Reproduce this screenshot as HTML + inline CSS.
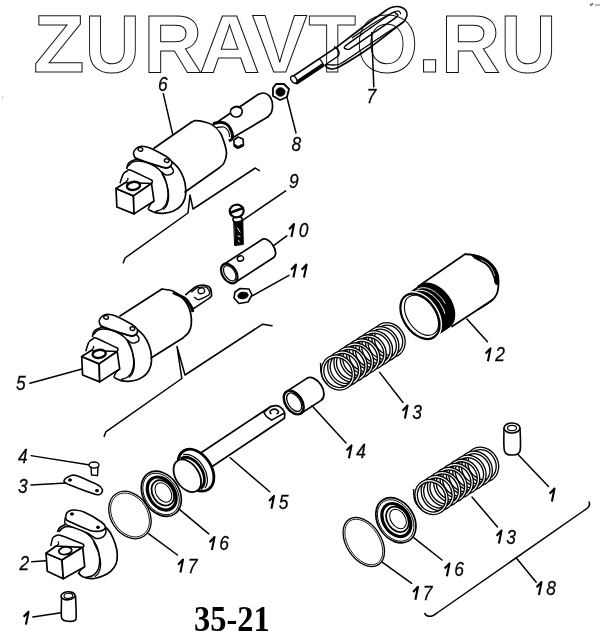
<!DOCTYPE html>
<html><head><meta charset="utf-8"><style>
html,body{margin:0;padding:0;background:#fff;width:600px;height:638px;overflow:hidden}
svg{position:absolute;left:0;top:0;will-change:transform}
.wm{font-family:"Liberation Sans",sans-serif;font-weight:bold;font-size:81.4px;fill:none;stroke:#111;stroke-width:1.0px}
.lb{font-family:"Liberation Sans",sans-serif;font-style:italic;fill:#000;stroke:#000;stroke-width:0.25px}
.big{font-family:"Liberation Serif",serif;font-weight:bold;fill:#000}
</style></head><body>
<svg width="600" height="638" viewBox="0 0 600 638">
<text class="wm" transform="translate(33.2,72) scale(1.03,1)" x="0" y="0">Z</text>
<text class="wm" transform="translate(84.9,72) scale(0.935,1)" x="0" y="0">U</text>
<text class="wm" transform="translate(143.6,72) scale(1.0,1)" x="0" y="0">R</text>
<text class="wm" transform="translate(198.9,72) scale(1.04,1)" x="0" y="0">A</text>
<text class="wm" transform="translate(252,72) scale(1.02,1)" x="0" y="0">V</text>
<text class="wm" transform="translate(308.4,72) scale(0.955,1)" x="0" y="0">T</text>
<text class="wm" transform="translate(355.9,72) scale(0.98,1)" x="0" y="0">O</text>
<text class="wm" transform="translate(417.7,72) scale(1.05,1)" x="0" y="0">.</text>
<text class="wm" transform="translate(441.1,72) scale(1.01,1)" x="0" y="0">R</text>
<text class="wm" transform="translate(500.4,72) scale(0.95,1)" x="0" y="0">U</text>
<path d="M292.6,76.5 L337,46.8 L363,27 L386.5,10" fill="none" stroke="#000" stroke-width="1.6" stroke-linejoin="round" stroke-linecap="round"/>
<path d="M386.5,10 C387.2,9.6 390.3,7.6 392,7.2 C393.7,6.8 397.7,6.4 399.5,6.8 C401.3,7.2 404.5,8.9 405.5,10 C406.5,11.1 407.1,13.8 407,15.3 C406.9,16.8 404.8,20.2 404.5,21" fill="none" stroke="#000" stroke-width="1.6"/>
<path d="M404.5,21 C401.1,23.6 376.5,42.9 370,47.5 C363.5,52.1 343.3,64.6 339.5,66.8 C335.7,69 333.2,68.9 332,69 C330.8,69.1 327.7,67.9 327,67.5 C326.3,67.1 325.2,65.2 325,65" fill="none" stroke="#000" stroke-width="1.6"/>
<path d="M326,64.5 C327.4,64.5 335.6,66 340,64 C344.4,62 363.6,48.2 370,44 C376.4,39.8 400.2,24.2 403.6,22" fill="none" stroke="#000" stroke-width="1.3"/>
<path d="M345.3,46 C342.3,48.7 346.1,48.8 346.8,49.1 C347.5,49.4 347.1,50.5 350.7,48.3 C354.3,46.1 367.9,36.7 374,32.5 C380.1,28.3 393.8,19.4 396.7,16.9 C399.6,14.4 396.6,14.1 396,13.6 C395.4,13.1 395.7,10.9 392.1,13 C388.5,15.1 375.2,24.6 369,29 C362.8,33.4 348.3,43.3 345.3,46Z" fill="none" stroke="#000" stroke-width="1.4"/>
<path d="M352,38 C355.1,35.9 369,26.1 375,22.5 C381,18.9 393.2,12.1 396.7,11 C400.2,9.9 400.4,13.6 401,14" fill="none" stroke="#000" stroke-width="1.2"/>
<path d="M297,82.3 L322.5,65.3" fill="none" stroke="#000" stroke-width="4" stroke-linejoin="round" stroke-linecap="round"/>
<path d="M319.5,59 C319.9,59.5 321.4,60.9 322,62 C322.6,63.1 322.8,64.9 323,65.5" fill="none" stroke="#000" stroke-width="1.4"/>
<path d="M325,65 L337.5,56.5" fill="none" stroke="#000" stroke-width="1.4" stroke-linejoin="round" stroke-linecap="round"/>
<path d="M334,46.5 C334.7,47.1 337.2,48.8 338,50 C338.8,51.2 339.1,52.9 339,54 C338.9,55.1 337.8,56.1 337.5,56.5" fill="none" stroke="#000" stroke-width="1.5"/>
<ellipse cx="293.8" cy="79.5" rx="2.6" ry="4" transform="rotate(-33 293.8 79.5)" fill="#fff" stroke="#000" stroke-width="1.4"/>
<path d="M371.7,32.5 L373.8,86.7" fill="none" stroke="#000" stroke-width="1.5" stroke-linejoin="round" stroke-linecap="round"/>
<text transform="translate(366.6,103.3) scale(0.87,1)" x="0" y="0" font-size="20" class="lb">7</text>
<path d="M273,88 L276,84 L284,84 L289,89 L287,97 L280,100 L273,96Z" fill="none" stroke="#000" stroke-width="1.8" stroke-linejoin="round" stroke-linecap="round"/>
<ellipse cx="280.5" cy="92" rx="4.5" ry="4.2" transform="rotate(0 280.5 92)" fill="#000" stroke="#000" stroke-width="1"/>
<path d="M286.8,96.8 L296,132.9" fill="none" stroke="#000" stroke-width="1.5" stroke-linejoin="round" stroke-linecap="round"/>
<text transform="translate(291.6,151) scale(0.87,1)" x="0" y="0" font-size="20" class="lb">8</text>
<text transform="translate(158.1,91.4) scale(0.87,1)" x="0" y="0" font-size="20" class="lb">6</text>
<path d="M163.3,93.7 L172.7,134.3" fill="none" stroke="#000" stroke-width="1.5" stroke-linejoin="round" stroke-linecap="round"/>
<path d="M126.7,169 C127,168 127.3,164.6 128.7,163 C130,161.4 133,160.3 134.7,159.7 C136.3,159 138,159.1 138.7,159" fill="none" stroke="#000" stroke-width="1.7"/>
<path d="M171.6,161.4 C172.8,162.6 176.6,165.6 178.5,168.3 C180.5,171 182.3,174.3 183.5,177.7 C184.7,181 185.5,185 185.7,188.3 C186,191.7 185.9,194.7 185.1,197.7 C184.2,200.6 182.8,203.7 180.8,205.9 C178.8,208.2 175.8,210 172.9,211.3 C170,212.5 166.3,213 163.3,213.3 C160.4,213.5 157.8,213.2 155.3,212.6 C152.9,212 149.8,210.2 148.7,209.7" fill="none" stroke="#000" stroke-width="1.7"/>
<path d="M128,166.3 C128.7,165.7 130.2,163.2 132,162.3 C133.8,161.4 135.7,160.8 138.7,161 C141.7,161.2 146.6,162.2 150,163.7 C153.4,165.1 156.9,167.3 159.3,169.7 C161.8,172 163.3,174.8 164.7,177.7 C166,180.6 166.8,183.9 167.3,187 C167.9,190.1 168.2,193.4 168,196.3 C167.8,199.2 167,202.2 166,204.3 C165,206.4 163.8,207.8 162,209 C160.2,210.2 156.4,211.2 155.3,211.7" fill="none" stroke="#000" stroke-width="1.5"/>
<path d="M162,173.7 C162.8,175.4 165.6,180.8 166.7,184.3 C167.8,187.9 168.6,191.7 168.7,195 C168.8,198.3 168.2,201.9 167.3,204.3 C166.4,206.8 164,208.8 163.3,209.7" fill="none" stroke="#000" stroke-width="1.2"/>
<path d="M170.7,166.3 C171.1,167 173.1,169.1 173.3,170.3 C173.6,171.6 173.2,172.9 172,173.7 C170.8,174.4 167.8,175.3 166,175 C164.2,174.7 162.1,172.2 161.3,171.7" fill="none" stroke="#000" stroke-width="1.4"/>
<path d="M133.7,152.1 C134.1,150.7 135.3,149 136.7,148.1 C138,147.1 139.8,146.4 142,146.3 C144.2,146.3 146,146.3 150,147.9 C154,149.6 162.4,154.1 166,156.3 C169.6,158.6 170.8,159.8 171.6,161.4 C172.4,163 171.6,164.9 170.7,165.9 C169.7,167 168.6,168 166,167.8 C163.4,167.6 160,166.5 155.3,165 C150.7,163.5 141.5,160.4 138,159 C134.5,157.6 135,157.5 134.3,156.3 C133.6,155.2 133.3,153.4 133.7,152.1Z" fill="#fff" stroke="#000" stroke-width="1.6"/>
<path d="M134.3,157 C134.9,157.4 134.3,158.2 138,159.7 C141.7,161.1 152,164.2 156.7,165.7 C161.3,167.1 163.6,168.2 166,168.3 C168.4,168.4 170.2,166.7 171.1,166.3" fill="none" stroke="#000" stroke-width="1.3"/>
<ellipse cx="140.4" cy="149.4" rx="2.4" ry="1.8" transform="rotate(15 140.4 149.4)" fill="none" stroke="#000" stroke-width="1.4"/>
<ellipse cx="166.7" cy="160.6" rx="2.4" ry="1.8" transform="rotate(15 166.7 160.6)" fill="none" stroke="#000" stroke-width="1.4"/>
<path d="M120,183.3 C120.3,182.4 122.3,175.7 123,174.5 C123.7,173.2 126.3,171.4 127,171 C127.7,170.6 127.6,169.1 130,170 C132.4,170.9 149.3,178.6 151.5,180 C153.6,181.4 151.5,183.2 151.5,183.5" fill="none" stroke="#000" stroke-width="1.5"/>
<path d="M127.5,177.9 C127.6,178.2 128.3,178.8 128,179.5 C127.7,180.3 125.9,182 125.5,182.5" fill="none" stroke="#000" stroke-width="1.2"/>
<path d="M154,201 C153.3,201.7 151,203.6 150,205 C149,206.4 148.3,208.9 148,209.7" fill="none" stroke="#000" stroke-width="1.4"/>
<path d="M116,188.5 L133.5,195.9 L134,213.9 L116.9,207Z" fill="#fff" stroke="#000" stroke-width="1.7" stroke-linejoin="round" stroke-linecap="round"/>
<path d="M116,188.5 L125.5,182.5 L151.5,183.5 L133.5,195.9Z" fill="#fff" stroke="#000" stroke-width="1.7" stroke-linejoin="round" stroke-linecap="round"/>
<path d="M133.5,195.9 L151.5,183.5 L154,201 L134,213.9Z" fill="#fff" stroke="#000" stroke-width="1.7" stroke-linejoin="round" stroke-linecap="round"/>
<ellipse cx="133.5" cy="185.9" rx="6.6" ry="4" transform="rotate(-8 133.5 185.9)" fill="#fff" stroke="#000" stroke-width="2.4"/>
<path d="M154,148.3 L191.3,122.3" fill="none" stroke="#000" stroke-width="1.7" stroke-linejoin="round" stroke-linecap="round"/>
<path d="M191.3,122.3 C192,122 193.3,120.8 195.3,120.7 C197.3,120.6 200.4,121 203.3,121.7 C206.2,122.4 210,123.3 212.7,125 C215.4,126.7 217.9,129 219.7,131.7 C221.5,134.4 222.6,137.4 223.7,141 C224.8,144.6 226.4,149.3 226.5,153 C226.6,156.7 225.2,160.5 224,163 C222.8,165.5 219.8,167.2 219,168" fill="none" stroke="#000" stroke-width="1.7"/>
<path d="M219,168 L185,192" fill="none" stroke="#000" stroke-width="1.7" stroke-linejoin="round" stroke-linecap="round"/>
<path d="M217,122.3 L258.3,94.3" fill="none" stroke="#000" stroke-width="1.7" stroke-linejoin="round" stroke-linecap="round"/>
<path d="M258.3,94.3 C259.2,94.1 261.9,92.8 263.7,93 C265.5,93.2 267.6,94.2 269,95.7 C270.4,97.2 271.9,99.6 272.3,102.3 C272.8,105 272.5,109.2 271.7,111.7 C270.9,114.2 268.4,116.1 267.7,117" fill="none" stroke="#000" stroke-width="1.7"/>
<path d="M267.7,117 L231.7,138.3" fill="none" stroke="#000" stroke-width="1.7" stroke-linejoin="round" stroke-linecap="round"/>
<path d="M213,123.7 C214.3,123.5 218.6,122.1 221,122.3 C223.4,122.5 225.9,123.4 227.7,125 C229.5,126.6 230.9,129.5 231.7,131.7 C232.5,133.9 232.8,136.8 232.3,138.3 C231.9,139.9 229.6,140.6 229,141" fill="#fff" stroke="#000" stroke-width="3"/>
<path d="M216,127.7 C217.3,127.6 221.6,126.5 223.7,127 C225.8,127.5 227.3,129.3 228.3,131 C229.3,132.7 229.5,136 229.7,137" fill="none" stroke="#000" stroke-width="1.2"/>
<ellipse cx="236.3" cy="111.7" rx="6" ry="5.3" transform="rotate(-10 236.3 111.7)" fill="#fff" stroke="#000" stroke-width="1.6"/>
<path d="M231,109.5 C231.8,109.1 234.3,107.2 236,107 C237.7,106.8 240.2,108.2 241,108.5" fill="none" stroke="#000" stroke-width="1.2"/>
<path d="M234,140 L238,137 L243,139 L243.5,145 L239,147.5 L234,145Z" fill="#fff" stroke="#000" stroke-width="1.6" stroke-linejoin="round" stroke-linecap="round"/>
<path d="M234,145 C234.7,145.4 236.5,147.5 238,147.5 C239.5,147.5 242.2,145.4 243,145" fill="none" stroke="#000" stroke-width="3"/>
<path d="M123.3,262.7 L125,258 L188,213 L190,195 L193,209 L255.3,168 L259.3,170.7" fill="none" stroke="#000" stroke-width="1.5" stroke-linejoin="round" stroke-linecap="round"/>
<text transform="translate(289.1,187.6) scale(0.87,1)" x="0" y="0" font-size="20" class="lb">9</text>
<path d="M285.7,190.8 L240.7,221.6" fill="none" stroke="#000" stroke-width="1.5" stroke-linejoin="round" stroke-linecap="round"/>
<path d="M234,221 L242.8,220.5 L243.3,244.5 L235,245.5Z" fill="#000" stroke="#000" stroke-width="1" stroke-linejoin="round" stroke-linecap="round"/>
<path d="M237.5,228 L240,232" fill="none" stroke="#fff" stroke-width="1" stroke-linejoin="round" stroke-linecap="round"/>
<path d="M238,236 L240,236.5" fill="none" stroke="#fff" stroke-width="1" stroke-linejoin="round" stroke-linecap="round"/>
<path d="M238.5,240.5 L239.5,242" fill="none" stroke="#fff" stroke-width="1" stroke-linejoin="round" stroke-linecap="round"/>
<ellipse cx="237.5" cy="219.3" rx="4.6" ry="2.6" transform="rotate(-5 237.5 219.3)" fill="#fff" stroke="#000" stroke-width="1.6"/>
<ellipse cx="236.7" cy="211" rx="7" ry="6.3" transform="rotate(-5 236.7 211)" fill="#fff" stroke="#000" stroke-width="2.2"/>
<path d="M231,212.5 L243,208" fill="none" stroke="#000" stroke-width="2.6" stroke-linejoin="round" stroke-linecap="round"/>
<path class="one" d="M289.1,229.2 L294,224.1 L291.4,237" fill="none" stroke="#000" stroke-width="2.1" stroke-linecap="butt" stroke-linejoin="round"/>
<text transform="translate(298.7,237) scale(0.87,1)" x="0" y="0" font-size="20" class="lb">0</text>
<path d="M286.8,235.8 L273.6,245.7" fill="none" stroke="#000" stroke-width="1.5" stroke-linejoin="round" stroke-linecap="round"/>
<g transform="translate(229.3,273.5) rotate(-33)">
<path d="M0,-10.7 L46,-10.7" fill="none" stroke="#000" stroke-width="1.7" stroke-linejoin="round" stroke-linecap="round"/>
<path d="M0,10.7 L46,10.7" fill="none" stroke="#000" stroke-width="1.7" stroke-linejoin="round" stroke-linecap="round"/>
<path d="M46,-10.7 A6,10.7 0 0 1 46,10.7" fill="none" stroke="#000" stroke-width="1.8"/>
<ellipse cx="0" cy="0" rx="7" ry="10.7" transform="rotate(0 0 0)" fill="#fff" stroke="#000" stroke-width="2.2"/>
<ellipse cx="0.5" cy="0" rx="5" ry="8.5" transform="rotate(0 0.5 0)" fill="none" stroke="#000" stroke-width="1.2"/>
<ellipse cx="17.5" cy="-6.5" rx="3.2" ry="2.6" transform="rotate(20 17.5 -6.5)" fill="none" stroke="#000" stroke-width="1.4"/>
</g>
<path class="one" d="M291.1,269.7 L296,264.6 L293.4,277.5" fill="none" stroke="#000" stroke-width="2.1" stroke-linecap="butt" stroke-linejoin="round"/>
<path class="one" d="M301.7,269.7 L306.6,264.6 L304,277.5" fill="none" stroke="#000" stroke-width="2.1" stroke-linecap="butt" stroke-linejoin="round"/>
<path d="M289,275.3 L251.7,296.2" fill="none" stroke="#000" stroke-width="1.5" stroke-linejoin="round" stroke-linecap="round"/>
<path d="M235,292 L240,288.5 L249,289 L252,295 L248,302 L239,303.5 L234,298Z" fill="none" stroke="#000" stroke-width="1.6" stroke-linejoin="round" stroke-linecap="round"/>
<ellipse cx="243" cy="295.5" rx="5.2" ry="3.2" transform="rotate(-10 243 295.5)" fill="#000" stroke="#000" stroke-width="1"/>
<text transform="translate(16.1,390) scale(0.87,1)" x="0" y="0" font-size="20" class="lb">5</text>
<path d="M30,383.3 L82,369" fill="none" stroke="#000" stroke-width="1.5" stroke-linejoin="round" stroke-linecap="round"/>
<path d="M92.4,337 C92.7,336 93,332.6 94.4,331 C95.7,329.4 98.7,328.3 100.4,327.7 C102,327 103.7,327.1 104.4,327" fill="none" stroke="#000" stroke-width="1.7"/>
<path d="M137.3,329.4 C138.5,330.6 142.3,333.6 144.2,336.3 C146.2,339 148,342.3 149.2,345.7 C150.4,349 151.2,353 151.4,356.3 C151.7,359.7 151.6,362.7 150.8,365.7 C149.9,368.6 148.5,371.7 146.5,373.9 C144.5,376.2 141.5,378 138.6,379.3 C135.7,380.5 132,381 129,381.3 C126.1,381.5 123.5,381.2 121,380.6 C118.6,380 115.5,378.2 114.4,377.7" fill="none" stroke="#000" stroke-width="1.7"/>
<path d="M93.7,334.3 C94.4,333.7 95.9,331.2 97.7,330.3 C99.5,329.4 101.4,328.8 104.4,329 C107.4,329.2 112.3,330.2 115.7,331.7 C119.1,333.1 122.6,335.3 125,337.7 C127.5,340 129,342.8 130.4,345.7 C131.7,348.6 132.5,351.9 133,355 C133.6,358.1 133.9,361.4 133.7,364.3 C133.5,367.2 132.7,370.2 131.7,372.3 C130.7,374.4 129.5,375.8 127.7,377 C125.9,378.2 122.1,379.2 121,379.7" fill="none" stroke="#000" stroke-width="1.5"/>
<path d="M127.7,341.7 C128.5,343.4 131.3,348.8 132.4,352.3 C133.5,355.9 134.3,359.7 134.4,363 C134.5,366.3 133.9,369.9 133,372.3 C132.1,374.8 129.7,376.8 129,377.7" fill="none" stroke="#000" stroke-width="1.2"/>
<path d="M136.4,334.3 C136.8,335 138.8,337.1 139,338.3 C139.3,339.6 138.9,340.9 137.7,341.7 C136.5,342.4 133.5,343.3 131.7,343 C129.9,342.7 127.8,340.2 127,339.7" fill="none" stroke="#000" stroke-width="1.4"/>
<path d="M99.4,320.1 C99.8,318.7 101,317 102.4,316.1 C103.7,315.1 105.5,314.4 107.7,314.3 C109.9,314.3 111.7,314.3 115.7,315.9 C119.7,317.6 128.1,322.1 131.7,324.3 C135.3,326.6 136.5,327.8 137.3,329.4 C138.1,331 137.3,332.9 136.4,333.9 C135.4,335 134.3,336 131.7,335.8 C129.1,335.6 125.7,334.5 121,333 C116.4,331.5 107.2,328.4 103.7,327 C100.2,325.6 100.7,325.5 100,324.3 C99.3,323.2 99,321.4 99.4,320.1Z" fill="#fff" stroke="#000" stroke-width="1.6"/>
<path d="M100,325 C100.6,325.4 100,326.2 103.7,327.7 C107.4,329.1 117.7,332.2 122.4,333.7 C127,335.1 129.3,336.2 131.7,336.3 C134.1,336.4 135.9,334.7 136.8,334.3" fill="none" stroke="#000" stroke-width="1.3"/>
<ellipse cx="106.1" cy="317.4" rx="2.4" ry="1.8" transform="rotate(15 106.1 317.4)" fill="none" stroke="#000" stroke-width="1.4"/>
<ellipse cx="132.4" cy="328.6" rx="2.4" ry="1.8" transform="rotate(15 132.4 328.6)" fill="none" stroke="#000" stroke-width="1.4"/>
<path d="M85.7,351.3 C86,350.4 88,343.7 88.7,342.5 C89.4,341.2 92,339.4 92.7,339 C93.4,338.6 93.3,337.1 95.7,338 C98.1,338.9 115,346.6 117.2,348 C119.3,349.4 117.2,351.2 117.2,351.5" fill="none" stroke="#000" stroke-width="1.5"/>
<path d="M93.2,345.9 C93.3,346.2 94,346.8 93.7,347.5 C93.4,348.3 91.6,350 91.2,350.5" fill="none" stroke="#000" stroke-width="1.2"/>
<path d="M119.7,369 C119,369.7 116.7,371.6 115.7,373 C114.7,374.4 114,376.9 113.7,377.7" fill="none" stroke="#000" stroke-width="1.4"/>
<path d="M81.7,356.5 L99.2,363.9 L99.7,381.9 L82.6,375Z" fill="#fff" stroke="#000" stroke-width="1.7" stroke-linejoin="round" stroke-linecap="round"/>
<path d="M81.7,356.5 L91.2,350.5 L117.2,351.5 L99.2,363.9Z" fill="#fff" stroke="#000" stroke-width="1.7" stroke-linejoin="round" stroke-linecap="round"/>
<path d="M99.2,363.9 L117.2,351.5 L119.7,369 L99.7,381.9Z" fill="#fff" stroke="#000" stroke-width="1.7" stroke-linejoin="round" stroke-linecap="round"/>
<ellipse cx="99.2" cy="353.9" rx="6.6" ry="4" transform="rotate(-8 99.2 353.9)" fill="#fff" stroke="#000" stroke-width="2.4"/>
<path d="M120,316 L162,289" fill="none" stroke="#000" stroke-width="1.7" stroke-linejoin="round" stroke-linecap="round"/>
<path d="M162,289 C163.8,289.3 169.6,289.8 172.7,291 C175.8,292.2 178.3,294.1 180.7,296.3 C183.1,298.5 185.6,301.4 187.3,304.3 C189,307.2 190,310.4 190.7,313.7 C191.4,317 191.6,321.2 191.3,324.3 C191,327.4 190,330.1 188.7,332.3 C187.4,334.5 184.2,336.8 183.3,337.7" fill="none" stroke="#000" stroke-width="1.7"/>
<path d="M183.3,337.7 L151,358" fill="none" stroke="#000" stroke-width="1.7" stroke-linejoin="round" stroke-linecap="round"/>
<path d="M185.3,295 C186.3,294.2 193.5,288 195.3,287 C197.1,286 201.9,285 203.3,285 C204.7,285 208.5,286.3 209.3,287 C210.1,287.7 211.2,291.3 211.3,292.3 C211.4,293.3 212.4,295.4 210.7,297 C209,298.6 195.8,307 194,308.3 C192.2,309.6 192.8,310.1 192.7,310.3" fill="none" stroke="#000" stroke-width="1.7"/>
<path d="M191.3,292.3 C191.9,291.8 195.8,288.2 197.3,287.7 C198.8,287.2 204.8,286.7 206,287 C207.2,287.3 209,290.2 209.3,291 C209.6,291.8 209.8,294.1 208.7,295 C207.6,295.9 200.2,299.5 198.7,299.7 C197.2,299.9 194.5,297.3 194,297" fill="none" stroke="#000" stroke-width="1.3"/>
<ellipse cx="201.3" cy="290.8" rx="3.3" ry="2.8" transform="rotate(-20 201.3 290.8)" fill="none" stroke="#000" stroke-width="1.3"/>
<path d="M173,292.5 C174.9,293.5 181.8,296.1 184.7,298.3 C187.6,300.5 189.3,303.4 190.7,305.7 C192.1,308 192.6,310.9 193,312" fill="none" stroke="#000" stroke-width="3"/>
<path d="M104.2,436.5 L105.8,431.8 L181.8,378.5 L177,346.4 L185,375 L262.6,324.2 L272,325.8" fill="none" stroke="#000" stroke-width="1.5" stroke-linejoin="round" stroke-linecap="round"/>
<path class="one" d="M485.6,353.5 L490.5,348.4 L487.9,361.3" fill="none" stroke="#000" stroke-width="2.1" stroke-linecap="butt" stroke-linejoin="round"/>
<text transform="translate(495.2,361.3) scale(0.87,1)" x="0" y="0" font-size="20" class="lb">2</text>
<path d="M466.9,319 L487.5,341.8" fill="none" stroke="#000" stroke-width="1.5" stroke-linejoin="round" stroke-linecap="round"/>
<g transform="translate(420,316.3) rotate(-34.5)">
<path d="M2.5,-25.1 A16.4,25.1 0 0 1 2.5,25.1 L18,25.1 A16.4,25.1 0 0 0 18,-25.1 Z" fill="#000" stroke="#000" stroke-width="1.6"/>
<path d="M10,-23.5 A15.5,24 0 0 1 22,12" fill="none" stroke="#fff" stroke-width="0.9"/>
<path d="M13,-23.8 A15.5,24 0 0 1 28,4" fill="none" stroke="#fff" stroke-width="0.8"/>
<ellipse cx="0" cy="0" rx="16.4" ry="25.1" transform="rotate(0 0 0)" fill="#fff" stroke="#fff" stroke-width="5"/>
<ellipse cx="0" cy="0" rx="16.4" ry="25.1" transform="rotate(0 0 0)" fill="#fff" stroke="#000" stroke-width="2.2"/>
<ellipse cx="1.8" cy="0" rx="14" ry="22.3" transform="rotate(0 1.8 0)" fill="none" stroke="#000" stroke-width="1.1"/>
</g>
<path d="M464.9,254.2 C466.2,254.3 469.4,254.1 472.5,254.8 C475.6,255.4 480.1,256.4 483.3,258 C486.6,259.6 489.6,262 492,264.5 C494.4,267 496.3,270.1 497.4,273.2 C498.5,276.3 498.6,279.6 498.5,283 C498.4,286.4 498,290.9 496.9,293.8 C495.8,296.6 495.1,297.6 492,300.2 C488.9,302.9 480.3,308 478,309.5" fill="none" stroke="#000" stroke-width="1.8"/>
<path d="M418,286.5 L464.9,254.2" fill="none" stroke="#000" stroke-width="1.7" stroke-linejoin="round" stroke-linecap="round"/>
<path d="M452,326.5 L492,300.2" fill="none" stroke="#000" stroke-width="1.7" stroke-linejoin="round" stroke-linecap="round"/>
<path d="M472.5,254.8 C474,254.7 480.1,256.4 483.3,258 C486.6,259.6 489.6,262 492,264.5 C494.4,267 496.3,270.1 497.4,273.2 C498.5,276.3 498.8,281.2 498.5,283 C498.2,284.8 496.3,285 495.5,284 C494.7,283 494.6,279.3 493.6,276.8 C492.7,274.3 491.4,271.1 489.8,268.8 C488.2,266.5 486.6,265 484,263.2 C481.4,261.4 476.4,259.6 474.5,258.2 C472.6,256.8 471,254.8 472.5,254.8Z" fill="#000" stroke="#000" stroke-width="1"/>
<path d="M481,259.8 C482.2,260.5 486.1,262.3 488,264 C489.9,265.7 491.4,268 492.5,270 C493.6,272 494.4,275 494.8,276" fill="none" stroke="#fff" stroke-width="0.7"/>
<path class="one" d="M402.6,410.7 L407.5,405.6 L404.9,418.5" fill="none" stroke="#000" stroke-width="2.1" stroke-linecap="butt" stroke-linejoin="round"/>
<text transform="translate(412.2,418.5) scale(0.87,1)" x="0" y="0" font-size="20" class="lb">3</text>
<path d="M379.6,372.4 L403,402.5" fill="none" stroke="#000" stroke-width="1.5" stroke-linejoin="round" stroke-linecap="round"/>
<g transform="translate(338,372.5) rotate(-32.6)">
<ellipse cx="60" cy="0" rx="14.8" ry="16.8" transform="rotate(0 60 0)" fill="none" stroke="#000" stroke-width="3.8"/>
<ellipse cx="60" cy="0" rx="14.8" ry="16.8" transform="rotate(0 60 0)" fill="none" stroke="#fff" stroke-width="1.2"/>
<ellipse cx="52.5" cy="0" rx="14.8" ry="16.8" transform="rotate(0 52.5 0)" fill="none" stroke="#000" stroke-width="3.8"/>
<ellipse cx="52.5" cy="0" rx="14.8" ry="16.8" transform="rotate(0 52.5 0)" fill="none" stroke="#fff" stroke-width="1.2"/>
<ellipse cx="45" cy="0" rx="14.8" ry="16.8" transform="rotate(0 45 0)" fill="none" stroke="#000" stroke-width="3.8"/>
<ellipse cx="45" cy="0" rx="14.8" ry="16.8" transform="rotate(0 45 0)" fill="none" stroke="#fff" stroke-width="1.2"/>
<ellipse cx="37.5" cy="0" rx="14.8" ry="16.8" transform="rotate(0 37.5 0)" fill="none" stroke="#000" stroke-width="3.8"/>
<ellipse cx="37.5" cy="0" rx="14.8" ry="16.8" transform="rotate(0 37.5 0)" fill="none" stroke="#fff" stroke-width="1.2"/>
<ellipse cx="30" cy="0" rx="14.8" ry="16.8" transform="rotate(0 30 0)" fill="none" stroke="#000" stroke-width="3.8"/>
<ellipse cx="30" cy="0" rx="14.8" ry="16.8" transform="rotate(0 30 0)" fill="none" stroke="#fff" stroke-width="1.2"/>
<ellipse cx="22.5" cy="0" rx="14.8" ry="16.8" transform="rotate(0 22.5 0)" fill="none" stroke="#000" stroke-width="3.8"/>
<ellipse cx="22.5" cy="0" rx="14.8" ry="16.8" transform="rotate(0 22.5 0)" fill="none" stroke="#fff" stroke-width="1.2"/>
<ellipse cx="15" cy="0" rx="14.8" ry="16.8" transform="rotate(0 15 0)" fill="none" stroke="#000" stroke-width="3.8"/>
<ellipse cx="15" cy="0" rx="14.8" ry="16.8" transform="rotate(0 15 0)" fill="none" stroke="#fff" stroke-width="1.2"/>
<ellipse cx="7.5" cy="0" rx="14.8" ry="16.8" transform="rotate(0 7.5 0)" fill="none" stroke="#000" stroke-width="3.8"/>
<ellipse cx="7.5" cy="0" rx="14.8" ry="16.8" transform="rotate(0 7.5 0)" fill="none" stroke="#fff" stroke-width="1.2"/>
<ellipse cx="0" cy="0" rx="14.8" ry="16.8" transform="rotate(0 0 0)" fill="none" stroke="#000" stroke-width="3.8"/>
<ellipse cx="0" cy="0" rx="14.8" ry="16.8" transform="rotate(0 0 0)" fill="none" stroke="#fff" stroke-width="1.2"/>
</g>
<path d="M320.5,363 C320.6,364.5 320.6,369.3 321,372 C321.4,374.7 321.8,376.9 323,379 C324.2,381.1 327.2,383.8 328,384.8" fill="none" stroke="#000" stroke-width="1.4"/>
<path class="one" d="M346.6,450.5 L351.5,445.4 L348.9,458.3" fill="none" stroke="#000" stroke-width="2.1" stroke-linecap="butt" stroke-linejoin="round"/>
<text transform="translate(356.2,458.3) scale(0.87,1)" x="0" y="0" font-size="20" class="lb">4</text>
<path d="M312,405.7 L346,443" fill="none" stroke="#000" stroke-width="1.5" stroke-linejoin="round" stroke-linecap="round"/>
<g transform="translate(293.75,402.5) rotate(-33)">
<path d="M0,-13.1 L24.1,-13.1" fill="none" stroke="#000" stroke-width="1.7" stroke-linejoin="round" stroke-linecap="round"/>
<path d="M0,13.1 L24.1,13.1" fill="none" stroke="#000" stroke-width="1.7" stroke-linejoin="round" stroke-linecap="round"/>
<path d="M24.1,-13.1 A8.3,13.1 0 0 1 24.1,13.1" fill="none" stroke="#000" stroke-width="1.8"/>
<ellipse cx="0" cy="0" rx="8.3" ry="13.1" transform="rotate(0 0 0)" fill="#fff" stroke="#000" stroke-width="2.4"/>
<ellipse cx="0.5" cy="0" rx="6" ry="10.3" transform="rotate(0 0.5 0)" fill="none" stroke="#000" stroke-width="1.3"/>
</g>
<path class="one" d="M269.1,501 L274,495.9 L271.4,508.8" fill="none" stroke="#000" stroke-width="2.1" stroke-linecap="butt" stroke-linejoin="round"/>
<text transform="translate(278.7,508.8) scale(0.87,1)" x="0" y="0" font-size="20" class="lb">5</text>
<path d="M230.2,457.8 L269.8,491.8" fill="none" stroke="#000" stroke-width="1.5" stroke-linejoin="round" stroke-linecap="round"/>
<path d="M201.8,452.2 L270.8,406.5" fill="none" stroke="#000" stroke-width="1.7" stroke-linejoin="round" stroke-linecap="round"/>
<path d="M210.3,467.8 L284.4,418.3" fill="none" stroke="#000" stroke-width="1.7" stroke-linejoin="round" stroke-linecap="round"/>
<path d="M270.8,406.5 C271.4,406.4 274.5,405.7 275.6,405.7 C276.7,405.7 278.3,406 279.3,406.5 C280.3,407 282.3,408.8 283,409.7 C283.7,410.6 284.5,412.4 284.7,413.5 C284.9,414.6 284.4,417.7 284.4,418.3" fill="none" stroke="#000" stroke-width="1.7"/>
<path d="M263.9,412.4 C264.2,412.9 265.5,415.5 266.5,416.5 C267.5,417.5 270.9,419.6 271.6,420.1" fill="none" stroke="#000" stroke-width="1.5"/>
<path d="M271.6,420.1 L283.6,413.5" fill="none" stroke="#000" stroke-width="1.5" stroke-linejoin="round" stroke-linecap="round"/>
<path d="M263.9,412.4 L270.8,406.5" fill="none" stroke="#000" stroke-width="1.5" stroke-linejoin="round" stroke-linecap="round"/>
<path d="M271.5,413.8 A4.3,2.5 0 1 1 276.5,414" fill="none" stroke="#000" stroke-width="1.6"/>
<g transform="translate(187.3,475.8) rotate(-33)">
<ellipse cx="10.3" cy="0" rx="15.4" ry="22.9" transform="rotate(0 10.3 0)" fill="#fff" stroke="#000" stroke-width="2.8"/>
<path d="M8,-20 A13.5,20.5 0 0 1 8,20" fill="none" stroke="#000" stroke-width="1.2"/>
<path d="M4,-17.9 A11.6,17.9 0 0 1 4,17.9" fill="none" stroke="#000" stroke-width="2.8"/>
<ellipse cx="0" cy="0" rx="11.6" ry="17.9" transform="rotate(0 0 0)" fill="#fff" stroke="#000" stroke-width="1.8"/>
</g>
<path class="one" d="M209.6,542.2 L214.5,537.1 L211.9,550" fill="none" stroke="#000" stroke-width="2.1" stroke-linecap="butt" stroke-linejoin="round"/>
<text transform="translate(219.2,550) scale(0.87,1)" x="0" y="0" font-size="20" class="lb">6</text>
<path d="M178.8,508.8 L208.8,533.8" fill="none" stroke="#000" stroke-width="1.5" stroke-linejoin="round" stroke-linecap="round"/>
<g transform="translate(161.3,493.8) rotate(-33)">
<ellipse cx="0" cy="0" rx="18" ry="24.2" transform="rotate(0 0 0)" fill="none" stroke="#000" stroke-width="1.7"/>
<ellipse cx="-0.3" cy="0" rx="16.2" ry="22.4" transform="rotate(0 -0.3 0)" fill="none" stroke="#000" stroke-width="0.9"/>
<ellipse cx="0.5" cy="0" rx="12.8" ry="17.8" transform="rotate(0 0.5 0)" fill="none" stroke="#000" stroke-width="3.2"/>
<ellipse cx="1.8" cy="0" rx="10.2" ry="13.6" transform="rotate(0 1.8 0)" fill="none" stroke="#000" stroke-width="1.8"/>
<ellipse cx="2.5" cy="0" rx="7.2" ry="10.6" transform="rotate(0 2.5 0)" fill="none" stroke="#000" stroke-width="1.0"/>
</g>
<path class="one" d="M178.1,564.7 L183,559.6 L180.4,572.5" fill="none" stroke="#000" stroke-width="2.1" stroke-linecap="butt" stroke-linejoin="round"/>
<text transform="translate(187.7,572.5) scale(0.87,1)" x="0" y="0" font-size="20" class="lb">7</text>
<path d="M148.8,533.8 L177.5,555" fill="none" stroke="#000" stroke-width="1.5" stroke-linejoin="round" stroke-linecap="round"/>
<g transform="translate(130,515) rotate(-33)">
<ellipse cx="0" cy="0" rx="19.2" ry="25.4" transform="rotate(0 0 0)" fill="none" stroke="#000" stroke-width="1.3"/>
<ellipse cx="0" cy="0" rx="17.4" ry="23.6" transform="rotate(0 0 0)" fill="none" stroke="#000" stroke-width="0.8"/>
</g>
<text transform="translate(18.1,462.5) scale(0.87,1)" x="0" y="0" font-size="20" class="lb">4</text>
<path d="M31,455.6 L90,465" fill="none" stroke="#000" stroke-width="1.4" stroke-linejoin="round" stroke-linecap="round"/>
<ellipse cx="94" cy="465" rx="5" ry="3" transform="rotate(0 94 465)" fill="#fff" stroke="#000" stroke-width="1.4"/>
<path d="M91,467 L91.5,475 L97.5,475.6 L98,467" fill="none" stroke="#000" stroke-width="1.4" stroke-linejoin="round" stroke-linecap="round"/>
<text transform="translate(18.1,493) scale(0.87,1)" x="0" y="0" font-size="20" class="lb">3</text>
<path d="M31,485 L66,483" fill="none" stroke="#000" stroke-width="1.5" stroke-linejoin="round" stroke-linecap="round"/>
<path d="M65,479 C65.7,478.2 68.5,476.5 70,476 C71.5,475.5 72.3,474.4 76,475.6 C79.7,476.8 94.5,483.1 98,485 C101.5,486.9 102,488.5 102.4,489.6 C102.8,490.7 101.9,493 101,493.6 C100.1,494.2 100.1,495.5 96,494.4 C91.9,493.3 74.2,486.7 70,485 C65.8,483.3 65.1,482.8 64.4,482 C63.7,481.2 64.3,479.8 65,479Z" fill="#fff" stroke="#000" stroke-width="1.6"/>
<ellipse cx="70" cy="480" rx="1.6" ry="1.3" transform="rotate(0 70 480)" fill="#000" stroke="#000" stroke-width="0.8"/>
<ellipse cx="97" cy="490.6" rx="1.6" ry="1.3" transform="rotate(0 97 490.6)" fill="#000" stroke="#000" stroke-width="0.8"/>
<text transform="translate(19.6,570.3) scale(0.87,1)" x="0" y="0" font-size="20" class="lb">2</text>
<path d="M31.7,561.8 L45.8,560.7" fill="none" stroke="#000" stroke-width="1.5" stroke-linejoin="round" stroke-linecap="round"/>
<path d="M57.3,532 C57.8,531.2 58.7,528.6 60,527.3 C61.3,526.1 64.4,525.1 65.3,524.7" fill="none" stroke="#000" stroke-width="1.7"/>
<path d="M105.3,526.7 C106.2,527.8 109,530.4 110.7,533.3 C112.3,536.2 114.2,540.4 115.3,544 C116.4,547.6 117.2,551.3 117.3,554.7 C117.4,558 117.1,561.2 116,564 C114.9,566.8 112.9,569.3 110.7,571.3 C108.4,573.3 105.8,574.8 102.7,576 C99.6,577.2 95.3,578.6 92,578.7 C88.7,578.8 85,577.7 82.7,576.7 C80.3,575.7 78.8,573.3 78,572.7" fill="none" stroke="#000" stroke-width="1.7"/>
<path d="M58.7,532 C59.3,531.3 60.9,528.9 62.7,528 C64.4,527.1 66.2,526.3 69.3,526.7 C72.4,527 77.8,528.3 81.3,530 C84.9,531.7 88.1,534 90.7,536.7 C93.2,539.3 95.2,542.8 96.7,546 C98.1,549.2 98.9,552.8 99.3,556 C99.8,559.2 99.8,562.7 99.3,565.3 C98.9,568 97.9,570.2 96.7,572 C95.4,573.8 93.9,575.1 92,576 C90.1,576.9 86.4,577.1 85.3,577.3" fill="none" stroke="#000" stroke-width="1.5"/>
<path d="M93.3,541.3 C94.2,543.3 97.4,549.6 98.7,553.3 C99.9,557.1 100.7,560.8 100.7,564 C100.7,567.2 99.7,570.6 98.7,572.7 C97.7,574.8 95.3,576 94.7,576.7" fill="none" stroke="#000" stroke-width="1.2"/>
<path d="M65.3,517.3 C65.3,518 64.5,521.6 64.8,522.7 C65.1,523.7 64.4,523.7 67.3,525.1 C70.2,526.4 83.5,531.2 86.7,532.7 C89.9,534.1 90.1,535 91.3,535.7 C92.6,536.5 94.8,538.1 96,538.4 C97.2,538.7 99.5,538.4 100.7,538 C101.8,537.6 104,536.2 104.7,535.3 C105.4,534.4 105.9,532.4 106,531.3 C106.1,530.3 105.4,527.9 105.3,527.3" fill="#fff" stroke="#000" stroke-width="1.5"/>
<path d="M66,514.7 C66.3,513.5 67.5,512 68.7,511.3 C69.8,510.7 72.6,509.9 74.7,510 C76.7,510.1 80.4,510.4 84,512 C87.6,513.6 98.5,520 101.3,522 C104.2,524 105.1,525.6 105.3,526.7 C105.6,527.7 104.2,529.4 103.3,530 C102.4,530.6 100.4,531.2 98.7,531.3 C97,531.4 94,531.7 90.7,530.7 C87.3,529.6 76.5,524.8 73.3,523.3 C70.1,521.9 67.6,521.2 66.7,520 C65.7,518.8 65.7,515.8 66,514.7Z" fill="#fff" stroke="#000" stroke-width="1.6"/>
<ellipse cx="72" cy="514" rx="1.6" ry="1.3" transform="rotate(0 72 514)" fill="#000" stroke="#000" stroke-width="0.8"/>
<ellipse cx="98" cy="527.3" rx="1.6" ry="1.3" transform="rotate(0 98 527.3)" fill="#000" stroke="#000" stroke-width="0.8"/>
<path d="M50.7,546 C50.9,545.2 52.2,539 52.7,538 C53.1,537 54.6,536.3 55.3,536 C56.1,535.7 57.3,534.5 60,535.3 C62.7,536.1 80.3,542.8 82.7,544 C85,545.2 83.3,547 83.3,547.3" fill="none" stroke="#000" stroke-width="1.5"/>
<path d="M58,541.3 C58.1,541.8 59,543.2 58.7,544 C58.3,544.8 56.4,545.7 56,546" fill="none" stroke="#000" stroke-width="1.2"/>
<path d="M84.7,566.7 C83.9,567.3 81,569.4 80,570.7 C79,571.9 78.9,573.4 78.7,574" fill="none" stroke="#000" stroke-width="1.4"/>
<path d="M46,553.3 L62,560 L63.3,578.7 L47.3,571.3Z" fill="#fff" stroke="#000" stroke-width="1.7" stroke-linejoin="round" stroke-linecap="round"/>
<path d="M46,553.3 L56,546 L82.7,547.3 L62,560Z" fill="#fff" stroke="#000" stroke-width="1.7" stroke-linejoin="round" stroke-linecap="round"/>
<path d="M62,560 L82.7,547.3 L84.7,566.7 L63.3,578.7Z" fill="#fff" stroke="#000" stroke-width="1.7" stroke-linejoin="round" stroke-linecap="round"/>
<ellipse cx="65.3" cy="550.7" rx="6.5" ry="3.8" transform="rotate(-8 65.3 550.7)" fill="#fff" stroke="#000" stroke-width="1.8"/>
<path class="one" d="M23.6,616.8 L28.5,611.7 L25.9,624.6" fill="none" stroke="#000" stroke-width="2.1" stroke-linecap="butt" stroke-linejoin="round"/>
<path d="M32.8,617 L61,612.7" fill="none" stroke="#000" stroke-width="1.5" stroke-linejoin="round" stroke-linecap="round"/>
<path d="M61.6,596.4 C61.6,598.6 60.9,615.5 61.6,618 C62.3,620.5 67.1,621.2 68.5,621.3 C69.9,621.4 75.3,621.6 76,619 C76.7,616.4 75.5,597.9 75.5,595.5" fill="none" stroke="#000" stroke-width="1.6"/>
<ellipse cx="68" cy="595.8" rx="7" ry="4" transform="rotate(-5 68 595.8)" fill="#fff" stroke="#000" stroke-width="1.6"/>
<ellipse cx="68.4" cy="595.8" rx="4.4" ry="2.6" transform="rotate(-5 68.4 595.8)" fill="none" stroke="#000" stroke-width="1.1"/>
<path d="M590,5.5 L593,3.5" stroke="#666" stroke-width="1.6"/><path d="M595,5 L600,5" stroke="#888" stroke-width="1.2"/>
<rect x="2" y="96" width="1.2" height="3" fill="#ccc"/>
<text class="big" x="0" y="0" font-size="34" transform="translate(194,630.8) scale(0.955,1.04)">35-21</text>
<path class="one" d="M549.6,493.7 L554.5,488.6 L551.9,501.5" fill="none" stroke="#000" stroke-width="2.1" stroke-linecap="butt" stroke-linejoin="round"/>
<path d="M518.5,455 L548.5,486.5" fill="none" stroke="#000" stroke-width="1.5" stroke-linejoin="round" stroke-linecap="round"/>
<path d="M504,428 C504.1,431.8 503.2,446.5 504.5,451 C505.8,455.5 509.4,455 512,455 C514.6,455 518.7,455.5 520,451 C521.3,446.5 520,431.8 520,428" fill="none" stroke="#000" stroke-width="1.6"/>
<ellipse cx="512" cy="428" rx="8" ry="5" transform="rotate(0 512 428)" fill="#fff" stroke="#000" stroke-width="1.6"/>
<ellipse cx="512" cy="428" rx="4.5" ry="2.6" transform="rotate(0 512 428)" fill="none" stroke="#000" stroke-width="1.1"/>
<path class="one" d="M496.6,535.7 L501.5,530.6 L498.9,543.5" fill="none" stroke="#000" stroke-width="2.1" stroke-linecap="butt" stroke-linejoin="round"/>
<text transform="translate(506.2,543.5) scale(0.87,1)" x="0" y="0" font-size="20" class="lb">3</text>
<path d="M472,497 L497.5,527" fill="none" stroke="#000" stroke-width="1.5" stroke-linejoin="round" stroke-linecap="round"/>
<g transform="translate(431.5,497) rotate(-32.6)">
<ellipse cx="60" cy="0" rx="14.8" ry="16.8" transform="rotate(0 60 0)" fill="none" stroke="#000" stroke-width="3.8"/>
<ellipse cx="60" cy="0" rx="14.8" ry="16.8" transform="rotate(0 60 0)" fill="none" stroke="#fff" stroke-width="1.2"/>
<ellipse cx="52.5" cy="0" rx="14.8" ry="16.8" transform="rotate(0 52.5 0)" fill="none" stroke="#000" stroke-width="3.8"/>
<ellipse cx="52.5" cy="0" rx="14.8" ry="16.8" transform="rotate(0 52.5 0)" fill="none" stroke="#fff" stroke-width="1.2"/>
<ellipse cx="45" cy="0" rx="14.8" ry="16.8" transform="rotate(0 45 0)" fill="none" stroke="#000" stroke-width="3.8"/>
<ellipse cx="45" cy="0" rx="14.8" ry="16.8" transform="rotate(0 45 0)" fill="none" stroke="#fff" stroke-width="1.2"/>
<ellipse cx="37.5" cy="0" rx="14.8" ry="16.8" transform="rotate(0 37.5 0)" fill="none" stroke="#000" stroke-width="3.8"/>
<ellipse cx="37.5" cy="0" rx="14.8" ry="16.8" transform="rotate(0 37.5 0)" fill="none" stroke="#fff" stroke-width="1.2"/>
<ellipse cx="30" cy="0" rx="14.8" ry="16.8" transform="rotate(0 30 0)" fill="none" stroke="#000" stroke-width="3.8"/>
<ellipse cx="30" cy="0" rx="14.8" ry="16.8" transform="rotate(0 30 0)" fill="none" stroke="#fff" stroke-width="1.2"/>
<ellipse cx="22.5" cy="0" rx="14.8" ry="16.8" transform="rotate(0 22.5 0)" fill="none" stroke="#000" stroke-width="3.8"/>
<ellipse cx="22.5" cy="0" rx="14.8" ry="16.8" transform="rotate(0 22.5 0)" fill="none" stroke="#fff" stroke-width="1.2"/>
<ellipse cx="15" cy="0" rx="14.8" ry="16.8" transform="rotate(0 15 0)" fill="none" stroke="#000" stroke-width="3.8"/>
<ellipse cx="15" cy="0" rx="14.8" ry="16.8" transform="rotate(0 15 0)" fill="none" stroke="#fff" stroke-width="1.2"/>
<ellipse cx="7.5" cy="0" rx="14.8" ry="16.8" transform="rotate(0 7.5 0)" fill="none" stroke="#000" stroke-width="3.8"/>
<ellipse cx="7.5" cy="0" rx="14.8" ry="16.8" transform="rotate(0 7.5 0)" fill="none" stroke="#fff" stroke-width="1.2"/>
<ellipse cx="0" cy="0" rx="14.8" ry="16.8" transform="rotate(0 0 0)" fill="none" stroke="#000" stroke-width="3.8"/>
<ellipse cx="0" cy="0" rx="14.8" ry="16.8" transform="rotate(0 0 0)" fill="none" stroke="#fff" stroke-width="1.2"/>
</g>
<path d="M413.5,489 C413.6,490.5 413.7,495.5 414.2,498 C414.7,500.5 415.4,502.2 416.5,504 C417.6,505.8 420.2,508.2 421,509" fill="none" stroke="#000" stroke-width="1.4"/>
<path class="one" d="M444.6,568.5 L449.5,563.4 L446.9,576.3" fill="none" stroke="#000" stroke-width="2.1" stroke-linecap="butt" stroke-linejoin="round"/>
<text transform="translate(454.2,576.3) scale(0.87,1)" x="0" y="0" font-size="20" class="lb">6</text>
<path d="M414,537.8 L442,560" fill="none" stroke="#000" stroke-width="1.5" stroke-linejoin="round" stroke-linecap="round"/>
<g transform="translate(395.9,520.3) rotate(-33)">
<ellipse cx="0" cy="0" rx="18" ry="24.2" transform="rotate(0 0 0)" fill="none" stroke="#000" stroke-width="1.7"/>
<ellipse cx="-0.3" cy="0" rx="16.2" ry="22.4" transform="rotate(0 -0.3 0)" fill="none" stroke="#000" stroke-width="0.9"/>
<ellipse cx="0.5" cy="0" rx="12.8" ry="17.8" transform="rotate(0 0.5 0)" fill="none" stroke="#000" stroke-width="3.2"/>
<ellipse cx="1.8" cy="0" rx="10.2" ry="13.6" transform="rotate(0 1.8 0)" fill="none" stroke="#000" stroke-width="1.8"/>
<ellipse cx="2.5" cy="0" rx="7.2" ry="10.6" transform="rotate(0 2.5 0)" fill="none" stroke="#000" stroke-width="1.0"/>
</g>
<path class="one" d="M413.1,591.9 L418,586.8 L415.4,599.7" fill="none" stroke="#000" stroke-width="2.1" stroke-linecap="butt" stroke-linejoin="round"/>
<text transform="translate(422.7,599.7) scale(0.87,1)" x="0" y="0" font-size="20" class="lb">7</text>
<path d="M382.5,562.3 L411.7,583.3" fill="none" stroke="#000" stroke-width="1.5" stroke-linejoin="round" stroke-linecap="round"/>
<g transform="translate(363.8,542) rotate(-33)">
<ellipse cx="0" cy="0" rx="17.4" ry="27" transform="rotate(0 0 0)" fill="none" stroke="#000" stroke-width="1.3"/>
<ellipse cx="0" cy="0" rx="15.6" ry="25.2" transform="rotate(0 0 0)" fill="none" stroke="#000" stroke-width="0.8"/>
</g>
<path d="M424.5,613 C424.9,613.5 425.8,615.3 427,615.8 C428.2,616.3 430.3,616.5 432,616 C433.7,615.5 436.2,613.5 437,613" fill="none" stroke="#000" stroke-width="1.5"/>
<path d="M437,613 L584,510.5" fill="none" stroke="#000" stroke-width="1.5" stroke-linejoin="round" stroke-linecap="round"/>
<path d="M584,510.5 C584.7,510 587.1,508.5 588,507.5 C588.9,506.5 589.3,505.5 589.5,504.5 C589.7,503.5 589.1,502 589,501.5" fill="none" stroke="#000" stroke-width="1.5"/>
<path d="M516.3,558 L536.2,582.2" fill="none" stroke="#000" stroke-width="1.5" stroke-linejoin="round" stroke-linecap="round"/>
<path class="one" d="M536.6,587.2 L541.5,582.1 L538.9,595" fill="none" stroke="#000" stroke-width="2.1" stroke-linecap="butt" stroke-linejoin="round"/>
<text transform="translate(546.2,595) scale(0.87,1)" x="0" y="0" font-size="20" class="lb">8</text>
</svg></body></html>
